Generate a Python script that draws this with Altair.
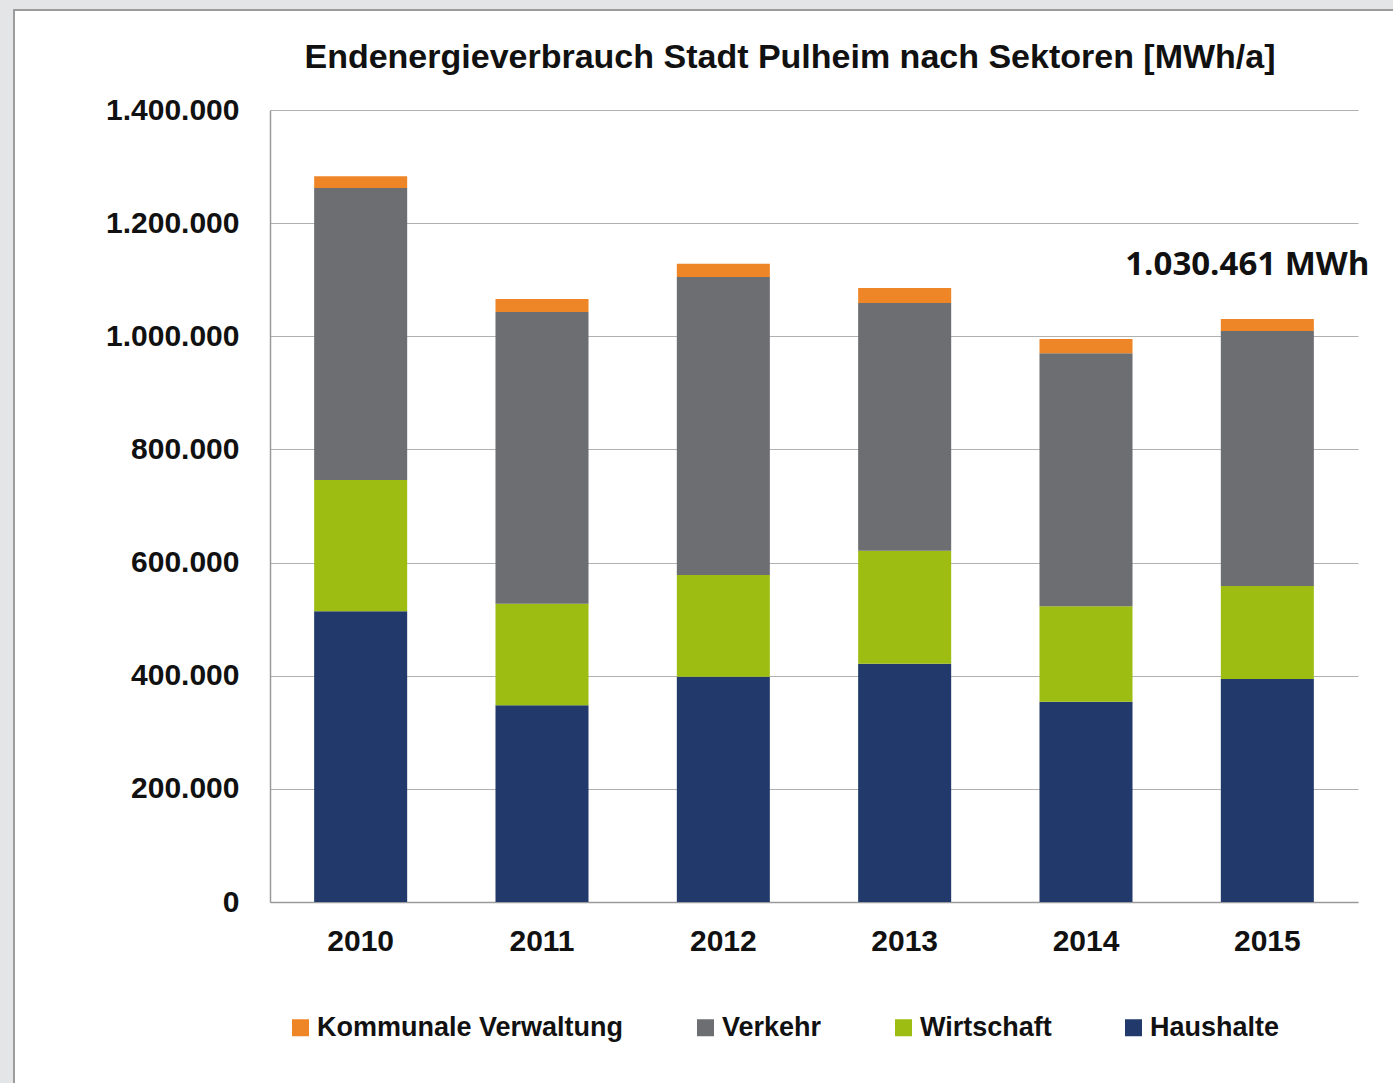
import altair as alt
import pandas as pd

years = ["2010", "2011", "2012", "2013", "2014", "2015"]
sectors = ["Kommunale Verwaltung", "Verkehr", "Wirtschaft", "Haushalte"]
colors = ["#ee8627", "#6d6e72", "#9dbd12", "#223a6b"]

haushalte = [514000, 348000, 398000, 421000, 354000, 394200]
wirtschaft = [232000, 179000, 180000, 200000, 169000, 164400]
verkehr = [516000, 516000, 527000, 438000, 447000, 450800]
kommunale = [21000, 23000, 23000, 26500, 25000, 21061]

title_text = "Endenergieverbrauch Stadt Pulheim nach Sektoren [MWh/a]"

stack_rank = {"Haushalte": 0, "Wirtschaft": 1, "Verkehr": 2, "Kommunale Verwaltung": 3}
series = {
    "Haushalte": haushalte,
    "Wirtschaft": wirtschaft,
    "Verkehr": verkehr,
    "Kommunale Verwaltung": kommunale,
}

rows = []
for i, y in enumerate(years):
    for s, vals in series.items():
        rows.append({"Jahr": y, "Sektor": s, "Wert": vals[i], "Rang": stack_rank[s]})
df = pd.DataFrame(rows)

total_2015 = sum(series[s][-1] for s in series)
label_2015 = f"{total_2015:,}".replace(",", ".") + " MWh"
total_df = pd.DataFrame({"Jahr": ["2015"], "Summe": [total_2015], "Label": [label_2015]})

FONT = "Liberation Sans Narrow, Arial Narrow, Liberation Sans, sans-serif"

x_enc = alt.X(
    "Jahr:N",
    sort=years,
    title=None,
    scale=alt.Scale(paddingInner=0.487, paddingOuter=0.2435),
    axis=alt.Axis(labelAngle=0, ticks=False, labelPadding=24, labelFontSize=30,
                  labelFont=FONT, labelFontWeight="bold", labelColor="#111111",
                  domainColor="#9a9a9a", domainWidth=1.5),
)

bars = alt.Chart(df).mark_bar().encode(
    x=x_enc,
    y=alt.Y(
        "Wert:Q",
        stack="zero",
        title=None,
        scale=alt.Scale(domain=[0, 1400000], nice=False),
        axis=alt.Axis(values=[0, 200000, 400000, 600000, 800000, 1000000, 1200000, 1400000],
                      format=",d", ticks=False, labelPadding=31, labelFontSize=30,
                      labelFont=FONT, labelFontWeight="bold", labelColor="#111111",
                      domainColor="#9a9a9a", domainWidth=1.5,
                      gridColor="#b0b0b0", gridWidth=1.2),
    ),
    color=alt.Color(
        "Sektor:N",
        scale=alt.Scale(domain=sectors, range=colors),
        legend=alt.Legend(
            title=None, orient="none", legendX=17, legendY=904, direction="horizontal",
            symbolType="square", symbolSize=289, symbolStrokeWidth=0,
            labelFont=FONT, labelFontSize=27, labelFontWeight="bold", labelColor="#111111",
            columnPadding=68, labelOffset=3, labelLimit=0,
        ),
    ),
    order=alt.Order("Rang:Q", sort="ascending"),
)

annot = alt.Chart(total_df).mark_text(
    font="Open Sans", fontWeight="bold", fontSize=33, color="#111111", dx=-20, dy=-54,
).encode(
    x=alt.X("Jahr:N", sort=years),
    y=alt.Y("Summe:Q"),
    text="Label:N",
)

frame_df = pd.DataFrame({"k": [0]})
title_df = pd.DataFrame({"t": [title_text]})

title_mark = alt.Chart(title_df).mark_text(
    font=FONT, fontWeight="bold", fontSize=34, color="#111111", align="center", baseline="middle",
).encode(x=alt.value(520), y=alt.value(-52), text="t:N")

left_strip = alt.Chart(frame_df).mark_rect(color="#e4e5e7").encode(
    x=alt.value(-270), x2=alt.value(-256), y=alt.value(-110), y2=alt.value(973))
top_strip = alt.Chart(frame_df).mark_rect(color="#e4e5e7").encode(
    x=alt.value(-270), x2=alt.value(1123), y=alt.value(-110), y2=alt.value(-100))
border = alt.Chart(frame_df).mark_rect(fillOpacity=0, stroke="#9c9c9c", strokeWidth=2).encode(
    x=alt.value(-256), x2=alt.value(1140), y=alt.value(-100), y2=alt.value(990))

chart = alt.layer(left_strip, top_strip, border, bars, annot, title_mark).properties(
    width=1088,
    height=792,
    padding={"left": 270, "top": 110, "right": 35, "bottom": 181},
    autosize=alt.AutoSizeParams(type="none"),
).configure(
    locale={"number": {"decimal": ",", "thousands": ".", "grouping": [3], "currency": ["", " €"]}},
    background="white",
).configure_view(stroke=None)

chart.save("out.html", embed_options={"renderer": "svg", "actions": False})
